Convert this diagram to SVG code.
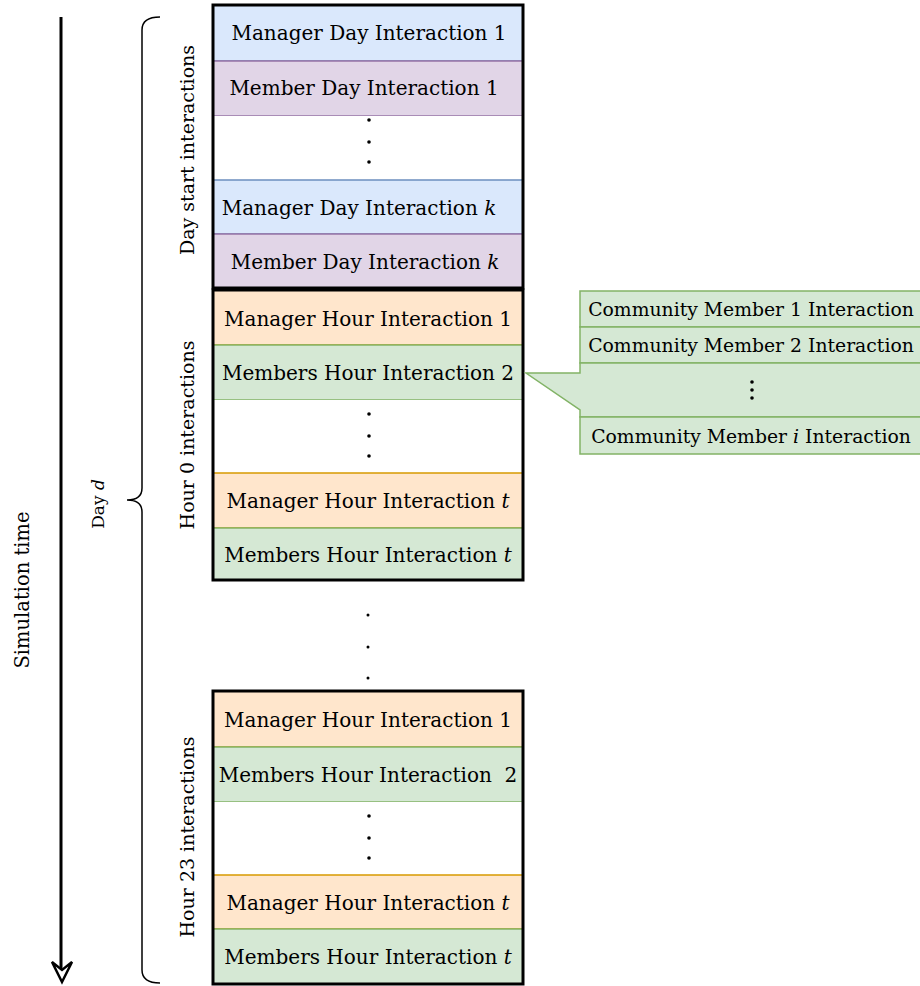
<svg xmlns="http://www.w3.org/2000/svg" width="920" height="986" viewBox="0 0 920 986">
<style>
  text { font-family: "DejaVu Serif", "Liberation Serif", serif; fill: #000; }
  .row { font-size: 20px; text-anchor: middle; dominant-baseline: central; }
  .cm { font-size: 18.8px; text-anchor: middle; dominant-baseline: central; }
  .lbl { font-size: 19px; text-anchor: middle; dominant-baseline: central; }
  .blue { fill: #dae8fc; stroke: #6c8ebf; stroke-width: 1.5; }
  .purple { fill: #e1d5e7; stroke: #9673a6; stroke-width: 1.5; }
  .orange { fill: #ffe6cc; stroke: #d79b00; stroke-width: 1.5; }
  .green { fill: #d5e8d4; stroke: #82b366; stroke-width: 1.5; }
  .white { fill: #ffffff; stroke: none; }
  .frame { fill: none; stroke: #000; stroke-width: 3; }
  .dot { fill: #000; }
  .it { font-style: italic; }
</style>

<g id="connectors">
  <line x1="61" y1="17" x2="61" y2="974" stroke="#000" stroke-width="3"/>
  <path d="M52,962 L62,982 L72,962 L62,970 Z" fill="#fff" stroke="#000" stroke-width="2.5" stroke-linejoin="miter"/>
  <path d="M160,17 Q142,17 142,30 L142,488 Q142,500 127,500 Q142,500 142,512 L142,970 Q142,983 160,983" fill="none" stroke="#000" stroke-width="1.5"/>
</g>

<g id="label-sim">
  <text class="lbl" style="font-size:19.5px" transform="translate(22,590) rotate(-90)">Simulation time</text>
</g>
<g id="label-day">
  <text class="lbl" style="font-size:17px" transform="translate(98,504) rotate(-90)">Day <tspan class="it">d</tspan></text>
</g>
<g id="label-daystart">
  <text class="lbl" transform="translate(187,150) rotate(-90)">Day start interactions</text>
</g>
<g id="label-hour0">
  <text class="lbl" transform="translate(187,435) rotate(-90)">Hour 0 interactions</text>
</g>
<g id="label-hour23">
  <text class="lbl" transform="translate(187,837) rotate(-90)">Hour 23 interactions</text>
</g>

<g id="day-start">
  <rect class="blue" x="213" y="5" width="310" height="56"/>
  <text class="row" x="369" y="33">Manager Day Interaction 1</text>
  <rect class="purple" x="213" y="61" width="310" height="55"/>
  <text class="row" x="364" y="88">Member Day Interaction 1</text>
  <rect class="white" x="213" y="116" width="310" height="64"/>
  <circle class="dot" cx="369" cy="120" r="1.8"/>
  <circle class="dot" cx="369" cy="142" r="1.8"/>
  <circle class="dot" cx="369" cy="162" r="1.8"/>
  <rect class="blue" x="213" y="180" width="310" height="54"/>
  <text class="row" x="359" y="208">Manager Day Interaction <tspan class="it">k</tspan></text>
  <rect class="purple" x="213" y="234" width="310" height="54"/>
  <text class="row" x="365" y="262">Member Day Interaction <tspan class="it">k</tspan></text>
  <rect class="frame" x="213" y="5" width="310" height="283"/>
</g>

<g id="hour0">
  <rect class="orange" x="213" y="290" width="310" height="55"/>
  <text class="row" x="368" y="319">Manager Hour Interaction 1</text>
  <rect class="green" x="213" y="345" width="310" height="55"/>
  <text class="row" x="368" y="373">Members Hour Interaction 2</text>
  <rect class="white" x="213" y="400" width="310" height="73"/>
  <circle class="dot" cx="369" cy="414" r="1.8"/>
  <circle class="dot" cx="369" cy="436" r="1.8"/>
  <circle class="dot" cx="369" cy="456" r="1.8"/>
  <rect class="orange" x="213" y="473" width="310" height="55"/>
  <text class="row" x="368" y="501">Manager Hour Interaction <tspan class="it">t</tspan></text>
  <rect class="green" x="213" y="528" width="310" height="52"/>
  <text class="row" x="368" y="555">Members Hour Interaction <tspan class="it">t</tspan></text>
  <rect class="frame" x="213" y="290" width="310" height="290"/>
</g>

<g id="gap-dots">
  <circle class="dot" cx="368" cy="615" r="1.5"/>
  <circle class="dot" cx="368" cy="647" r="1.5"/>
  <circle class="dot" cx="368" cy="678" r="1.5"/>
</g>

<g id="hour23">
  <rect class="orange" x="213" y="691" width="310" height="56"/>
  <text class="row" x="368" y="720">Manager Hour Interaction 1</text>
  <rect class="green" x="213" y="747" width="310" height="55"/>
  <text class="row" x="368" y="775" xml:space="preserve">Members Hour Interaction  2</text>
  <rect class="white" x="213" y="802" width="310" height="73"/>
  <circle class="dot" cx="369" cy="816" r="1.8"/>
  <circle class="dot" cx="369" cy="838" r="1.8"/>
  <circle class="dot" cx="369" cy="858" r="1.8"/>
  <rect class="orange" x="213" y="875" width="310" height="54"/>
  <text class="row" x="368" y="903">Manager Hour Interaction <tspan class="it">t</tspan></text>
  <rect class="green" x="213" y="929" width="310" height="55"/>
  <text class="row" x="368" y="957">Members Hour Interaction <tspan class="it">t</tspan></text>
  <rect class="frame" x="213" y="691" width="310" height="293"/>
</g>

<g id="callout">
  <rect class="green" x="580" y="291" width="345" height="36"/>
  <text class="cm" x="751" y="309">Community Member 1 Interaction</text>
  <rect class="green" x="580" y="327" width="345" height="36"/>
  <text class="cm" x="751" y="345">Community Member 2 Interaction</text>
  <path class="green" d="M580,363 L925,363 L925,417 L580,417 L580,410 L526,373 L580,373 Z"/>
  <circle class="dot" cx="752" cy="382" r="1.8"/>
  <circle class="dot" cx="752" cy="390" r="1.8"/>
  <circle class="dot" cx="752" cy="398" r="1.8"/>
  <rect class="green" x="580" y="417" width="345" height="37"/>
  <text class="cm" x="751" y="436">Community Member <tspan class="it">i</tspan> Interaction</text>
</g>
</svg>
